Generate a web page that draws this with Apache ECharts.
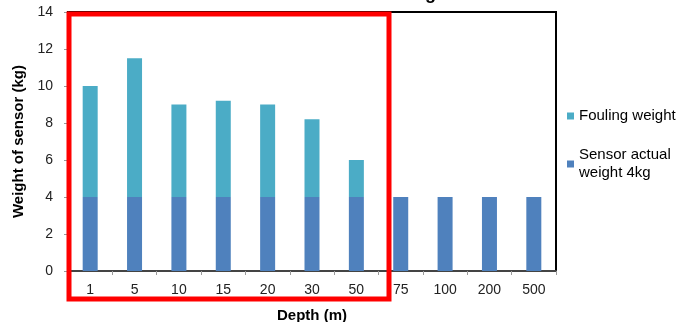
<!DOCTYPE html>
<html><head><meta charset="utf-8">
<script src="https://cdn.jsdelivr.net/npm/echarts@6/dist/echarts.min.js"></script>
<style>html,body{margin:0;padding:0;background:#fff}#c{width:679px;height:322px}</style>
</head><body><div id="c"></div>
<script>
var categories = ['1','5','10','15','20','30','50','75','100','200','500'];
var sensorWeight = [4,4,4,4,4,4,4,4,4,4,4];
var foulingWeight = [6,7.5,5,5.2,5,4.2,2,0,0,0,0];
var yTicks = [0,2,4,6,8,10,12,14];

var chart = echarts.init(document.getElementById('c'));
var font = 'Arial, "Liberation Sans", sans-serif';
chart.setOption({
  animation: false,
  title: {
    text: 'Sensor weight',
    left: 325, top: -20,
    textStyle: {fontFamily: font, fontWeight: 'bold', fontSize: 18, color: '#000'}
  },
  grid: {left: 68, right: 123, top: 12, bottom: 51, outerBoundsMode: 'none', containLabel: false,
    show: true, borderColor: '#000', borderWidth: 2, backgroundColor: 'transparent'},
  legend: {
    orient: 'vertical', left: 562, top: 102,
    itemWidth: 7, itemHeight: 7, itemGap: 21,
    icon: 'rect',
    textStyle: {fontFamily: font, fontSize: 15, color: '#000', lineHeight: 18},
    data: ['Fouling weight', 'Sensor actual\nweight 4kg']
  },
  xAxis: {
    type: 'category', data: categories,
    name: 'Depth (m)', nameLocation: 'middle', nameGap: 37,
    nameTextStyle: {fontFamily: font, fontWeight: 'bold', fontSize: 15, color: '#000'},
    axisLine: {lineStyle: {color: '#444', width: 2}},
    axisTick: {show: true, length: 4, lineStyle: {color: '#999'}},
    axisLabel: {fontFamily: font, fontSize: 14, color: '#222', margin: 12}
  },
  yAxis: {
    type: 'value', min: 0, max: 14, interval: 2,
    name: 'Weight of sensor (kg)', nameLocation: 'middle', nameGap: 41,
    nameTextStyle: {fontFamily: font, fontWeight: 'bold', fontSize: 15, color: '#000'},
    axisLine: {show: true, lineStyle: {color: '#444'}},
    axisTick: {show: true, length: 4, lineStyle: {color: '#999'}},
    splitLine: {show: false},
    axisLabel: {fontFamily: font, fontSize: 14, color: '#222', margin: 15,
      formatter: function (v) { return yTicks.indexOf(v) >= 0 ? String(v) : ''; }}
  },
  series: [
    {name: 'Sensor actual\nweight 4kg', type: 'bar', stack: 'w', data: sensorWeight, barWidth: 15,
      itemStyle: {color: '#4F81BD'}},
    {name: 'Fouling weight', type: 'bar', stack: 'w', data: foulingWeight, barWidth: 15,
      itemStyle: {color: '#4BACC6'}}
  ],
  graphic: [{
    type: 'rect', z: 100,
    shape: {x: 69, y: 14, width: 320, height: 285},
    style: {fill: 'none', stroke: '#FF0000', lineWidth: 5}
  }]
});
</script></body></html>
